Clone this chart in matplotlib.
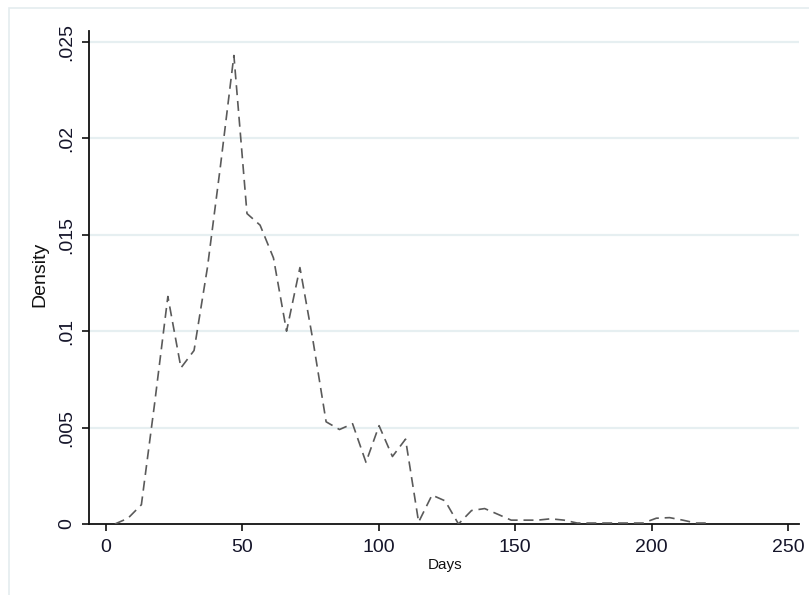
import matplotlib
matplotlib.use("Agg")
import matplotlib.pyplot as plt
from matplotlib.patches import Rectangle

plt.rcParams["font.family"] = ["Liberation Sans", "DejaVu Sans"]

# frequency-polygon vertices
days = [3.3, 8.1, 13.0, 17.8, 22.7, 27.5, 32.3, 37.2, 42.0, 46.9,
        51.7, 56.5, 61.4, 66.2, 71.1, 75.9, 80.7, 85.6, 90.4, 95.3,
        100.1, 105.0, 109.8, 114.6, 119.5, 124.3, 129.2, 134.0, 138.8, 143.7,
        148.5, 153.3, 158.2, 163.0, 167.9, 172.7, 177.5, 182.4, 187.2, 192.0,
        196.9, 201.7, 206.6, 211.4, 216.2, 221.1]
density = [0.0000, 0.0003, 0.0010, 0.0062, 0.0118, 0.0081, 0.0090, 0.0133, 0.0186, 0.0243,
           0.0161, 0.0155, 0.0138, 0.0100, 0.0133, 0.0095, 0.0053, 0.0049, 0.0052, 0.0032,
           0.0051, 0.0035, 0.0044, 0.0001, 0.0015, 0.0012, 0.0000, 0.0007, 0.0008, 0.0005,
           0.0002, 0.0002, 0.0002, 0.00027, 0.0002, 0.00005, 0.00005, 0.00005, 0.00005, 0.00005,
           0.00005, 0.0003, 0.00033, 0.0002, 0.00005, 0.00005]

xticks = [0, 50, 100, 150, 200, 250]
yticks = [0, 0.005, 0.01, 0.015, 0.02, 0.025]
ylabels = ["0", ".005", ".01", ".015", ".02", ".025"]

ink = "#15152a"
grid_c = "#e6eff1"

fig = plt.figure(figsize=(8.09, 5.95), dpi=100)
# light outer frame (Stata graph region)
fig.patches.append(Rectangle((9 / 809, -0.1), 1.2, 1 - 8 / 595 + 0.1, transform=fig.transFigure,
                             fill=False, ec="#e4ecef", lw=1.2))
ax = fig.add_axes([89 / 809, 1 - 524 / 595, (799 - 89) / 809, (524 - 31) / 595])

ax.plot(days, density, color="#5a5a5a", lw=1.2, dashes=(6, 3.5), zorder=3)

ax.set_xlim(-6.2, 254)
ax.set_ylim(0, 0.02557)
ax.set_xticks(xticks)
ax.set_yticks(yticks)
ax.set_yticklabels(ylabels, rotation=90, va="center")
for y in yticks[1:]:
    ax.axhline(y, color=grid_c, lw=1.6, zorder=1)

for s in ["top", "right"]:
    ax.spines[s].set_visible(False)
for s in ["left", "bottom"]:
    ax.spines[s].set_linewidth(1.3)
    ax.spines[s].set_color("#111111")

ax.tick_params(axis="both", direction="out", length=5, width=1.2, color="#111111",
               labelsize=14, labelcolor=ink)
ax.tick_params(axis="y", pad=5)
ax.tick_params(axis="x", pad=6)

fig.text(445 / 809, 1 - 565 / 595, "Days", ha="center", va="center", fontsize=11, color="#111111")
fig.text(40 / 809, 1 - 274 / 595, "Density", ha="center", va="center", rotation=90,
         fontsize=14, color="#111111")

fig.savefig("out.png", dpi=100, facecolor="white")
